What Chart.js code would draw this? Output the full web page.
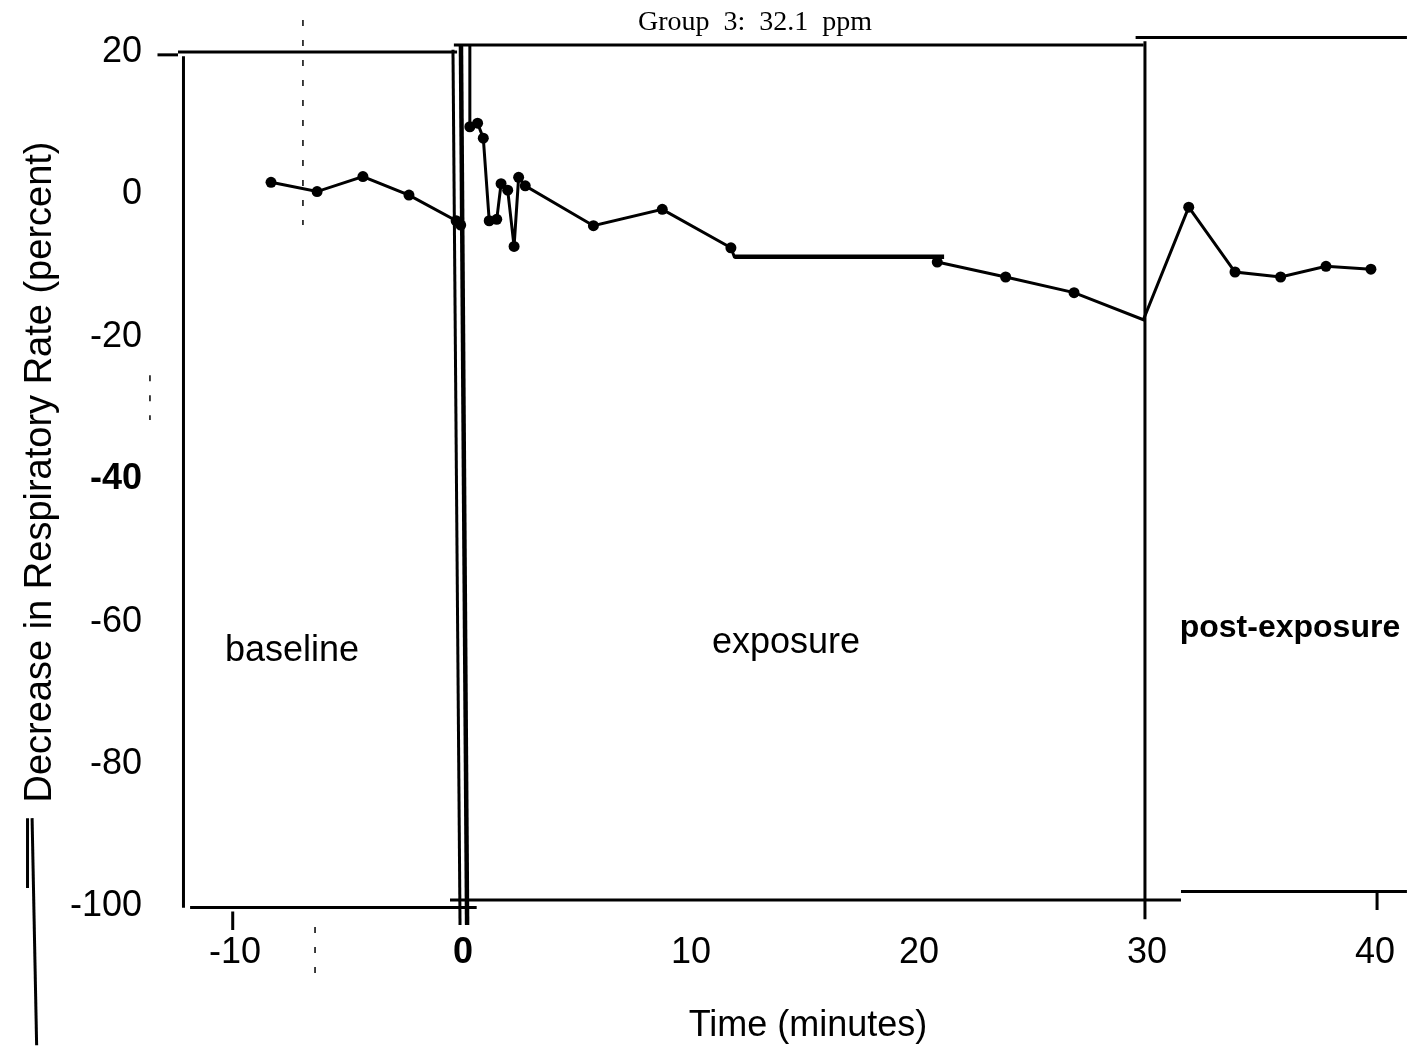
<!DOCTYPE html>
<html>
<head>
<meta charset="utf-8">
<script src="https://cdn.jsdelivr.net/npm/chart.js@4.4.1/dist/chart.umd.min.js"></script>
<style>
    html, body { margin: 0; padding: 0; background: #fff; }
    #wrap { width: 1407px; height: 1047px; }
</style>
</head>
<body>
<div id="wrap"><canvas id="chart"></canvas></div>
<script>
// time in minutes, decrease in respiratory rate in percent
const chartTitle = 'Group  3:  32.1  ppm';
const xTitle = 'Time (minutes)';
const yTitle = 'Decrease in Respiratory Rate (percent)';
const xTicks = [-10, 0, 10, 20, 30, 40];
const yTicks = [20, 0, -20, -40, -60, -80, -100];

// baseline readings
const baselineTime = [-8.42, -6.4, -4.39, -2.37, -0.3, -0.1];
const baselineRate = [1.7, 0.4, 2.5, -0.1, -3.7, -4.3];

// measured points during exposure and after
const exposureTime = [0.3, 0.64, 0.89, 1.15, 1.48, 1.67, 1.96, 2.24, 2.44, 2.73, 5.72, 8.74, 11.75, 20.8, 23.8, 26.8,
    31.83, 33.86, 35.86, 37.85, 39.82];
const exposureRate = [9.5, 10.0, 7.9, -3.7, -3.5, 1.5, 0.6, -7.3, 2.4, 1.2, -4.4, -2.1, -7.5, -9.5, -11.6, -13.8,
    -1.8, -10.9, -11.6, -10.1, -10.5];

// the trace as drawn (goes off the top at start, flat across 12-21 min, dips at 30 min)
const traceTime = [0.3, 0.3, 0.64, 0.89, 1.15, 1.48, 1.67, 1.96, 2.24, 2.44, 2.73, 5.72, 8.74, 11.75, 11.9, 20.8, 20.8,
    23.8, 26.8, 29.84, 31.83, 33.86, 35.86, 37.85, 39.82];
const traceRate = [21, 9.5, 10.0, 7.9, -3.7, -3.5, 1.5, 0.6, -7.3, 2.4, 1.2, -4.4, -2.1, -7.5, -8.75, -8.75, -9.5,
    -11.6, -13.8, -17.6, -1.8, -10.9, -11.6, -10.1, -10.5];

// frame and phase markers, [x1, y1, x2, y2] in axis units
const frameLines = [
    [-13.4, 19.6, -12.5, 19.6],
    [-12.5, 20, -0.26, 20],
    [-0.4, 20.98, 29.85, 20.98],
    [29.5, 22.04, 41.4, 22.04],
    [-12.26, 19.4, -12.26, -100.2],
    [-11.97, -100.15, 0.6, -100.15],
    [-0.57, -99.1, 31.49, -99.1],
    [31.49, -97.9, 41.4, -97.9],
    [29.91, 21.5, 29.91, -101.8],
    [-10.1, -100.7, -10.1, -103.3],
    [40.09, -98.0, 40.09, -100.5],
    [-0.44, 20.3, -0.13, -102.6],
    [-18.9, -87.6, -18.7, -119.5],
    [-19.1, -87.6, -19.1, -97.4]
];
const heavyLines = [
    [-0.09, 21, 0.18, -102.6],
    [11.9, -8.75, 21.1, -8.75]
];
const specks = [
    [-7.02, 24.5, -7.02, -4.3],
    [-6.49, -102.9, -6.49, -110.1],
    [-13.73, -25.4, -13.73, -31.7]
];

const regionNames = ['baseline', 'exposure', 'post-exposure'];
const regionTime = [-7.5, 14.17, 36.27];
const regionRate = [-64.1, -63.0, -60.9];

const SANS = '"Liberation Sans", Arial, Helvetica, sans-serif';

const pts = (xs, ys) => xs.map((x, i) => ({ x: x, y: ys[i] }));
const seg = s => [{ x: s[0], y: s[1] }, { x: s[2], y: s[3] }];

const datasets = [];

frameLines.forEach(s => datasets.push({ data: seg(s), borderWidth: 3 }));
heavyLines.forEach(s => datasets.push({ data: seg(s), borderWidth: 4.5 }));
specks.forEach(s => datasets.push({ data: seg(s), borderWidth: 1.5, borderDash: [6, 14] }));

datasets.push({ data: pts(baselineTime, baselineRate), borderWidth: 3, pointRadius: 5.5 });
datasets.push({ data: pts(traceTime, traceRate), borderWidth: 3 });
datasets.push({ data: pts(exposureTime, exposureRate), showLine: false, pointRadius: 5.5 });

datasets.forEach(d => {
    d.borderColor = '#000';
    d.backgroundColor = '#000';
    d.pointBackgroundColor = '#000';
    d.pointBorderWidth = 0;
    if (d.pointRadius === undefined) d.pointRadius = 0;
    if (d.showLine === undefined) d.showLine = true;
    d.clip = false;
});

const textPlugin = {
    id: 'texts',
    afterDraw(chart) {
        const { ctx, scales: { x, y } } = chart;
        ctx.save();
        ctx.fillStyle = '#000';
        ctx.textAlign = 'center';

        //region names
        ctx.textBaseline = 'middle';
        regionNames.forEach((name, i) => {
            ctx.font = (i === 2 ? 'bold 32px ' : '36px ') + SANS;
            ctx.fillText(name, x.getPixelForValue(regionTime[i]), y.getPixelForValue(regionRate[i]));
        });

        //title
        ctx.textBaseline = 'alphabetic';
        ctx.font = '28px "Liberation Serif", "Times New Roman", serif';
        ctx.fillText(chartTitle, 755, 30);

        //axis titles
        ctx.font = '36px ' + SANS;
        ctx.fillText(xTitle, 808, 1036);

        ctx.translate(51, 472);
        ctx.rotate(-Math.PI / 2);
        ctx.font = '38px ' + SANS;
        ctx.fillText(yTitle, 0, 0);
        ctx.restore();
    }
};

const tickFont = bold => ({ family: SANS, size: 36, weight: bold ? 'bold' : 'normal' });

new Chart(document.getElementById('chart').getContext('2d'), {
    type: 'scatter',
    data: { datasets: datasets },
    options: {
        responsive: true,
        maintainAspectRatio: false,
        animation: false,
        devicePixelRatio: 1,
        layout: { padding: { top: 38, right: 7, left: 0, bottom: 0 } },
        plugins: { legend: { display: false }, tooltip: { enabled: false } },
        scales: {
            x: {
                type: 'linear',
                min: -12.237,
                max: 41.096,
                grid: { display: false, drawTicks: false },
                border: { display: false },
                afterBuildTicks: s => { s.ticks = xTicks.map(v => ({ value: v })); },
                afterFit: s => {
                    s.height = 122;
                    s.paddingLeft = 0;
                    s.paddingRight = 0;
                },
                ticks: {
                    autoSkip: false,
                    maxRotation: 0,
                    padding: 6,
                    color: '#000',
                    font: c => tickFont(c.tick && c.tick.value === 0)
                }
            },
            y: {
                type: 'linear',
                min: -102.61,
                max: 21.966,
                grid: { display: false, drawTicks: false },
                border: { display: false },
                afterBuildTicks: s => { s.ticks = yTicks.map(v => ({ value: v })); },
                afterFit: s => {
                    s.width = 184;
                    s.paddingTop = 0;
                    s.paddingBottom = 0;
                },
                ticks: {
                    autoSkip: false,
                    padding: 42,
                    color: '#000',
                    font: c => tickFont(c.tick && c.tick.value === -40)
                }
            }
        }
    },
    plugins: [textPlugin]
});
</script>
</body>
</html>
